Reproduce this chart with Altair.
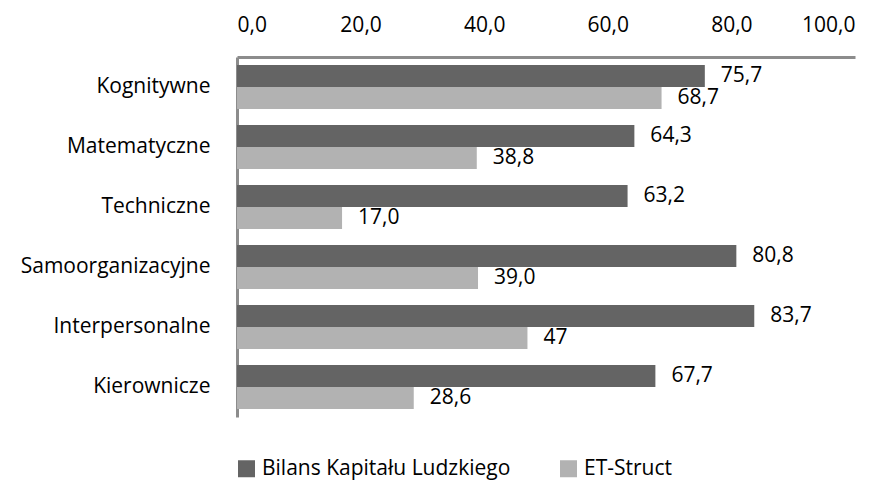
import altair as alt
import pandas as pd

categories = ["Kognitywne", "Matematyczne ", "Techniczne", "Samoorganizacyjne",
              "Interpersonalne", "Kierownicze"]
series = ["Bilans Kapitału Ludzkiego", "ET-Struct"]
bilans_values = [75.7, 64.3, 63.2, 80.8, 83.7, 67.7]
etstruct_values = [68.7, 38.8, 17.0, 39.0, 47, 28.6]
bilans_labels = ["75,7", "64,3", "63,2", "80,8", "83,7", "67,7"]
etstruct_labels = ["68,7", "38,8", "17,0", "39,0", "47", "28,6"]
colors = ["#646464", "#b2b2b2"]

rows = []
for i, c in enumerate(categories):
    rows.append({"cat": c, "series": series[0], "value": bilans_values[i], "label": bilans_labels[i]})
    rows.append({"cat": c, "series": series[1], "value": etstruct_values[i], "label": etstruct_labels[i]})
df = pd.DataFrame(rows)

FONT = "Open Sans"
FS = 21

y_enc = alt.Y("cat:N", sort=categories,
              scale=alt.Scale(paddingInner=0.267, paddingOuter=0.1335),
              axis=alt.Axis(title=None, domainColor="#8c8c8c", domainWidth=3,
                            ticks=False, labelFontSize=FS, labelColor="#000000",
                            labelFont=FONT, labelPadding=27, labelLimit=0))
yoff = alt.YOffset("series:N", sort=series)

base = alt.Chart(df).encode(y=y_enc, yOffset=yoff)

bars = base.mark_bar().encode(
    x=alt.X("value:Q", scale=alt.Scale(domain=[0, 100]),
            axis=alt.Axis(orient="top", title=None, values=[0, 20, 40, 60, 80, 100],
                          labelExpr="replace(format(datum.value, '.1f'), '.', ',')",
                          domainColor="#8c8c8c", domainWidth=3, ticks=False, grid=False,
                          labelFontSize=FS, labelColor="#000000", labelFont=FONT,
                          labelPadding=22)),
    color=alt.Color("series:N", sort=series,
                    scale=alt.Scale(domain=series, range=colors),
                    legend=alt.Legend(title=None, orient="none", direction="horizontal",
                                      legendX=-1, legendY=401, symbolType="square",
                                      symbolSize=289, symbolStrokeWidth=0,
                                      labelFontSize=FS, labelFont=FONT, labelLimit=0,
                                      labelColor="#000000", columnPadding=47,
                                      labelOffset=5)),
)

texts = base.mark_text(align="left", baseline="middle", dx=16, fontSize=FS,
                       font=FONT, color="#000000").encode(
    x="value:Q", text="label:N")

chart = alt.layer(bars, texts).properties(
    width=618, height=360,
    background="#ffffff",
    autosize=alt.AutoSizeParams(type="none"),
    padding={"left": 237, "top": 57, "right": 29, "bottom": 63},
).configure_view(stroke=None)

chart.save("out.html", embed_options={"renderer": "svg", "actions": False})
